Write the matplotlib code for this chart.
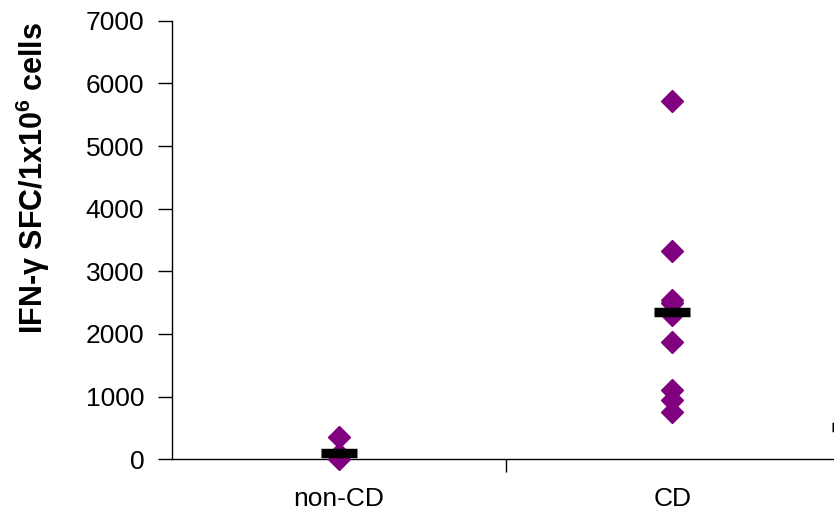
import numpy as np
import matplotlib
matplotlib.use("Agg")
import matplotlib.pyplot as plt

plt.rcParams['font.family'] = ['Liberation Sans', 'DejaVu Sans']

# group names and positions on the category axis
groups = ["non-CD", "CD"]
group_pos = [1, 2]

# individual responses (SFC per 1x10^6 cells)
noncd_vals = [350, 90, 0]
cd_vals = [5720, 3330, 2550, 2490, 2300, 1870, 1110, 940, 750]

# median bars
medians = [95, 2345]
# a third median bar that is cut off at the right edge
extra_pos = [2.533]
extra_median = [510]

purple = "#800080"

W, H = 834, 513
fig = plt.figure(figsize=(W / 100, H / 100), dpi=100)
left_px, right_px = 172, W
ax = fig.add_axes([left_px / W, (H - 459.3) / H,
                   (right_px - left_px) / W, (459.3 - 20.7) / H])

for pos, vals in zip(group_pos, [noncd_vals, cd_vals]):
    ax.plot([pos] * len(vals), vals, linestyle="none", marker="D", ms=11,
            color=purple, clip_on=False, zorder=3)

hw = 0.054
for pos, m in zip(group_pos + extra_pos, medians + extra_median):
    ax.hlines(m, pos - hw, pos + hw, colors="black", linewidth=6.8, zorder=4,
              clip_on=False)

# one category is 333.5 px wide
ax.set_xlim(0.5, 0.5 + (right_px - left_px) / 333.5)
ax.set_ylim(0, 7000)
ax.set_yticks(np.arange(0, 7001, 1000))
ax.set_xticks([1.5], minor=False)
ax.set_xticklabels([])
ax.set_xticks(group_pos, minor=True)
ax.set_xticklabels(groups, minor=True)
ax.tick_params(axis="x", which="minor", length=0, pad=20, labelsize=19)
ax.tick_params(axis="x", which="major", length=9, width=1, direction="out")
ax.tick_params(axis="y", length=10, width=1, pad=10, labelsize=19)
ax.spines["top"].set_visible(False)
ax.spines["right"].set_visible(False)
for s in ["left", "bottom"]:
    ax.spines[s].set_linewidth(1)

fig.text(33 / W, 1 - 178 / H, "IFN-\u03b3 SFC/1x10$^{\\mathregular{6}}$ cells",
         fontsize=22, fontweight="bold", rotation=90, ha="center", va="center")

fig.savefig("out.png", dpi=100)
